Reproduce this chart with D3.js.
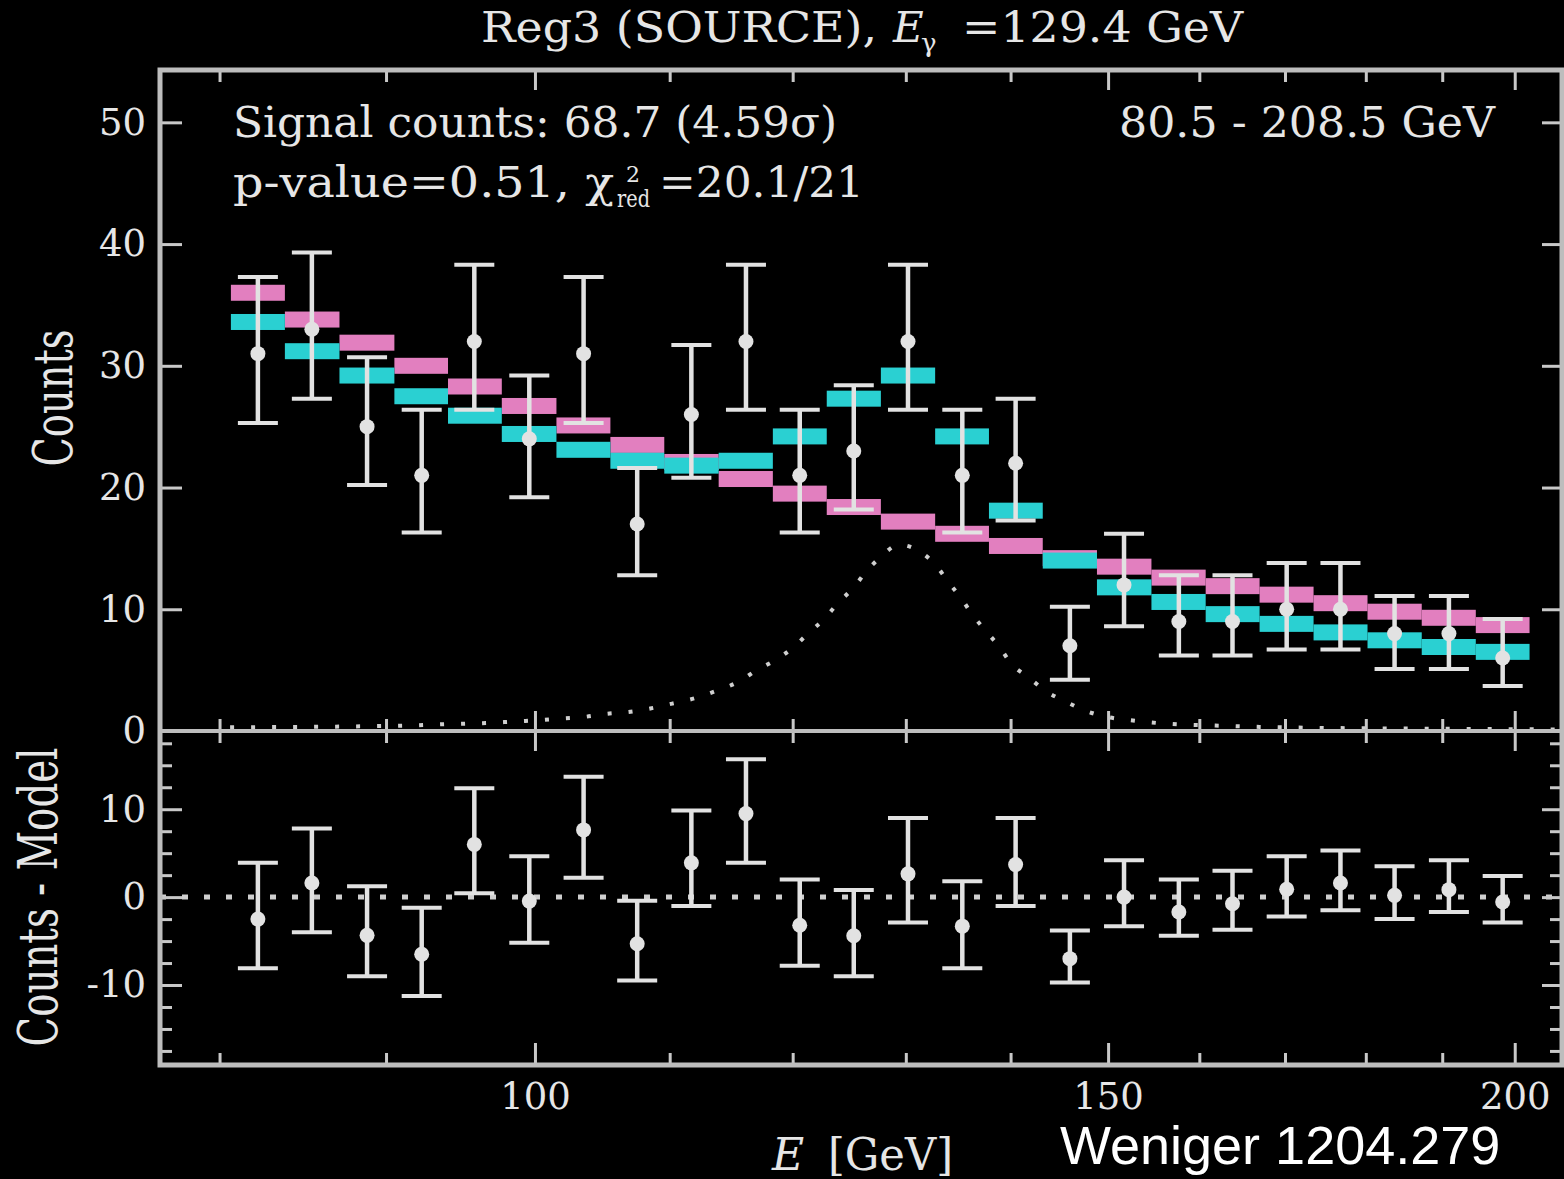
<!DOCTYPE html>
<html>
<head>
<meta charset="utf-8">
<script src="https://cdn.jsdelivr.net/npm/d3@7"></script>
<style>
  body { margin: 0; background: #000; }
  svg { display: block; }
</style>
</head>
<body>
<div id="chart"></div>
<script>
// bin centres in GeV (log spaced, 80.5 - 208.5 GeV)
const binCenters = [82.2, 85.4, 88.8, 92.3, 95.8, 99.6, 103.5, 107.5, 111.7, 116.1, 120.6, 125.3,
                    130.2, 135.3, 140.5, 146.0, 151.7, 157.7, 163.8, 170.2, 176.8, 183.7, 190.9, 198.3];

// observed counts with (asymmetric) error bars
const counts        = [31, 33, 25, 21, 32, 24, 31, 17, 26, 32, 21, 23, 32, 21, 22, 7, 12, 9, 9, 10, 10, 8, 8, 6];
const countsErrUp   = [6.3, 6.3, 5.7, 5.4, 6.3, 5.2, 6.3, 4.6, 5.7, 6.3, 5.4, 5.4, 6.3, 5.4, 5.3, 3.2, 4.2, 3.8, 3.8, 3.8, 3.8, 3.1, 3.1, 3.2];
const countsErrDown = [5.7, 5.7, 4.8, 4.7, 5.6, 4.8, 5.7, 4.2, 5.2, 5.6, 4.7, 4.8, 5.6, 4.7, 4.7, 2.8, 3.4, 2.8, 2.8, 3.3, 3.3, 2.9, 2.9, 2.3];

// background only fit (pink) and background + line fit (cyan)
const bkgModel   = [36.0, 33.8, 31.9, 30.0, 28.3, 26.7, 25.1, 23.5, 22.1, 20.7, 19.5, 18.4,
                    17.2, 16.2, 15.2, 14.2, 13.5, 12.6, 11.9, 11.2, 10.5, 9.8, 9.3, 8.7];
const totalModel = [33.6, 31.2, 29.2, 27.5, 25.9, 24.4, 23.1, 22.2, 21.8, 22.2, 24.2, 27.3,
                    29.2, 24.2, 18.1, 14.0, 11.8, 10.6, 9.6, 8.8, 8.1, 7.45, 6.9, 6.5];

// residuals: counts - model
const residuals     = [-2.5, 1.6, -4.35, -6.5, 6.0, -0.45, 7.65, -5.3, 3.9, 9.5, -3.2, -4.4,
                       2.65, -3.3, 3.7, -7.0, 0.0, -1.7, -0.75, 0.9, 1.6, 0.2, 0.85, -0.55];
const residErrUp    = [6.4, 6.2, 5.6, 5.3, 6.4, 5.1, 6.05, 4.9, 5.95, 6.2, 5.2, 5.2,
                       6.35, 5.1, 5.3, 3.2, 4.2, 3.7, 3.75, 3.75, 3.7, 3.3, 3.35, 2.95];
const residErrDown  = [5.6, 5.6, 4.65, 4.75, 5.55, 4.75, 5.45, 4.2, 4.9, 5.6, 4.6, 4.6,
                       5.55, 4.8, 4.7, 2.7, 3.3, 2.7, 2.95, 3.1, 3.1, 2.7, 2.55, 2.35];

// line component (dotted curve)
const lineE      = [80.6, 83.7, 86.4, 89.2, 92.1, 93.6, 95.3, 96.8, 98.5, 100.1, 101.6, 103.5, 105.1, 106.8,
                    108.5, 110.2, 112.0, 113.7, 115.4, 117.0, 118.5, 120.1, 121.3, 122.7, 123.9, 125.3, 126.4,
                    127.6, 129.4, 131.2, 132.9, 134.0, 135.2, 136.3, 137.5, 138.9, 140.1, 141.8, 143.5, 145.6,
                    147.5, 149.9, 152.2, 156.3, 161.8, 167.4, 175, 185, 195, 206];
const lineCounts = [0.3, 0.33, 0.35, 0.4, 0.47, 0.55, 0.6, 0.66, 0.78, 0.88, 1.0, 1.15, 1.4, 1.56,
                    1.85, 2.25, 2.7, 3.3, 4.0, 5.0, 5.8, 6.9, 8.0, 9.2, 10.5, 11.8, 13.1,
                    14.2, 15.3, 14.8, 13.5, 12.2, 10.9, 9.5, 8.3, 6.9, 5.5, 4.4, 3.3, 2.4,
                    1.7, 1.15, 0.9, 0.6, 0.45, 0.33, 0.25, 0.2, 0.16, 0.13];

// ticks
const xMajorTicks = [100, 150, 200];
const xMinorTicks = [80, 90, 110, 120, 130, 140, 160, 170, 180, 190];
const countTicks  = [0, 10, 20, 30, 40, 50];
const residTicks  = [-10, 0, 10];
const residMinor  = [-17.5, -15, -12.5, -7.5, -5, -2.5, 2.5, 5, 7.5, 12.5, 15, 17.5];

const width = 1564, height = 1179;
const plotLeft = 160, plotRight = 1562, plotTop = 70, panelSplit = 731, plotBottom = 1065;

const serif = "'DejaVu Serif', serif";
const textColor = "#e6e6e6";
const frameColor = "#bdbdbd";
const tickColor = "#c8c8c8";
const pink = "#e27fbf";
const cyan = "#2ad0d2";
const pointColor = "#e2e2e2";

const svg = d3.select("#chart")
  .append("svg")
    .attr("width", width)
    .attr("height", height)
    .style("background", "#000");

const x = d3.scaleLog().domain([76.7, 206.8]).range([plotLeft, plotRight]);
const yTop = d3.scaleLinear().domain([0, 54.3]).range([panelSplit, plotTop]);
const yRes = d3.scaleLinear().domain([-19.1, 18.9]).range([plotBottom, panelSplit]);

// bin edges: geometric midpoints between neighbouring centres
function binLo(i) {
  const prev = i > 0 ? binCenters[i - 1] : binCenters[0] * binCenters[0] / binCenters[1];
  return Math.sqrt(prev * binCenters[i]);
}
function binHi(i) {
  const n = binCenters.length;
  const next = i < n - 1 ? binCenters[i + 1] : binCenters[n - 1] * binCenters[n - 1] / binCenters[n - 2];
  return Math.sqrt(next * binCenters[i]);
}

const barH = 16;

// model bars, pink below cyan
function drawModel(values, color) {
  svg.append("g")
    .selectAll("rect")
    .data(values)
    .join("rect")
      .attr("x", (d, i) => x(binLo(i)))
      .attr("width", (d, i) => x(binHi(i)) - x(binLo(i)))
      .attr("y", d => yTop(d) - barH / 2)
      .attr("height", barH)
      .attr("fill", color);
}
drawModel(bkgModel, pink);
drawModel(totalModel, cyan);

// dotted line component
const lineData = lineE.map((e, i) => ({e: e, c: lineCounts[i]}));
svg.append("path")
  .datum(lineData)
  .attr("fill", "none")
  .attr("stroke", "#cfcfcf")
  .attr("stroke-width", 4)
  .attr("stroke-dasharray", "4,17")
  .attr("d", d3.line()
    .x(d => x(d.e))
    .y(d => yTop(d.c))
    .curve(d3.curveMonotoneX));

// residual zero line
svg.append("line")
  .attr("x1", plotLeft).attr("x2", plotRight)
  .attr("y1", yRes(0)).attr("y2", yRes(0))
  .attr("stroke", "#cfcfcf")
  .attr("stroke-width", 5)
  .attr("stroke-dasharray", "6,16");

// error bars + points
function drawPoints(vals, up, down, y) {
  const g = svg.append("g");
  const pts = vals.map((v, i) => ({e: binCenters[i], v: v, hi: v + up[i], lo: v - down[i]}));
  const cap = 20;

  g.selectAll("line.bar")
    .data(pts)
    .join("line")
      .attr("class", "bar")
      .attr("x1", d => x(d.e)).attr("x2", d => x(d.e))
      .attr("y1", d => y(d.hi)).attr("y2", d => y(d.lo))
      .attr("stroke", pointColor).attr("stroke-width", 4.5);

  g.selectAll("line.capHi")
    .data(pts)
    .join("line")
      .attr("class", "capHi")
      .attr("x1", d => x(d.e) - cap).attr("x2", d => x(d.e) + cap)
      .attr("y1", d => y(d.hi)).attr("y2", d => y(d.hi))
      .attr("stroke", pointColor).attr("stroke-width", 4);

  g.selectAll("line.capLo")
    .data(pts)
    .join("line")
      .attr("class", "capLo")
      .attr("x1", d => x(d.e) - cap).attr("x2", d => x(d.e) + cap)
      .attr("y1", d => y(d.lo)).attr("y2", d => y(d.lo))
      .attr("stroke", pointColor).attr("stroke-width", 4);

  g.selectAll("circle")
    .data(pts)
    .join("circle")
      .attr("cx", d => x(d.e))
      .attr("cy", d => y(d.v))
      .attr("r", 7.5)
      .attr("fill", pointColor);
}
drawPoints(counts, countsErrUp, countsErrDown, yTop);
drawPoints(residuals, residErrUp, residErrDown, yRes);

// axes (ticks pointing inwards)
function styleAxis(g) {
  g.select(".domain").remove();
  g.selectAll(".tick line").attr("stroke", tickColor).attr("stroke-width", 3);
  g.selectAll(".tick text")
    .attr("fill", textColor)
    .attr("font-family", serif)
    .attr("font-size", 37);
}
function addAxis(axis, tx, ty) {
  svg.append("g")
    .attr("transform", `translate(${tx},${ty})`)
    .call(axis)
    .call(styleAxis);
}
const noLabel = () => "";
const plain = d => String(d);   // keep an ascii hyphen for negatives

// x ticks: top frame, panel split (both sides), bottom frame
addAxis(d3.axisTop(x).tickValues(xMajorTicks).tickSize(-20).tickSizeOuter(0).tickFormat(noLabel), 0, plotTop);
addAxis(d3.axisTop(x).tickValues(xMinorTicks).tickSize(-12).tickSizeOuter(0).tickFormat(noLabel), 0, plotTop);
addAxis(d3.axisBottom(x).tickValues(xMajorTicks).tickSize(-20).tickSizeOuter(0).tickFormat(noLabel), 0, panelSplit);
addAxis(d3.axisBottom(x).tickValues(xMinorTicks).tickSize(-12).tickSizeOuter(0).tickFormat(noLabel), 0, panelSplit);
addAxis(d3.axisTop(x).tickValues(xMajorTicks).tickSize(-20).tickSizeOuter(0).tickFormat(noLabel), 0, panelSplit);
addAxis(d3.axisTop(x).tickValues(xMinorTicks).tickSize(-12).tickSizeOuter(0).tickFormat(noLabel), 0, panelSplit);
addAxis(d3.axisBottom(x).tickValues(xMajorTicks).tickSize(-22).tickSizeOuter(0).tickPadding(18).tickFormat(plain), 0, plotBottom);
addAxis(d3.axisBottom(x).tickValues(xMinorTicks).tickSize(-12).tickSizeOuter(0).tickFormat(noLabel), 0, plotBottom);

// y ticks, top panel
addAxis(d3.axisLeft(yTop).tickValues(countTicks).tickSize(-22).tickSizeOuter(0).tickPadding(14).tickFormat(plain), plotLeft, 0);
addAxis(d3.axisRight(yTop).tickValues(countTicks.slice(1)).tickSize(-20).tickSizeOuter(0).tickFormat(noLabel), plotRight, 0);

// y ticks, residual panel
addAxis(d3.axisLeft(yRes).tickValues(residTicks).tickSize(-22).tickSizeOuter(0).tickPadding(14).tickFormat(plain), plotLeft, 0);
addAxis(d3.axisLeft(yRes).tickValues(residMinor).tickSize(-12).tickSizeOuter(0).tickFormat(noLabel), plotLeft, 0);
addAxis(d3.axisRight(yRes).tickValues(residTicks).tickSize(-20).tickSizeOuter(0).tickFormat(noLabel), plotRight, 0);
addAxis(d3.axisRight(yRes).tickValues(residMinor).tickSize(-12).tickSizeOuter(0).tickFormat(noLabel), plotRight, 0);

// frame + panel separator
svg.append("rect")
  .attr("x", plotLeft).attr("y", plotTop)
  .attr("width", plotRight - plotLeft).attr("height", plotBottom - plotTop)
  .attr("fill", "none")
  .attr("stroke", frameColor)
  .attr("stroke-width", 5);
svg.append("line")
  .attr("x1", plotLeft).attr("x2", plotRight)
  .attr("y1", panelSplit).attr("y2", panelSplit)
  .attr("stroke", frameColor)
  .attr("stroke-width", 4);

// texts
function label(str, px, py, size, len) {
  const t = svg.append("text")
    .attr("x", px).attr("y", py)
    .attr("fill", textColor)
    .attr("font-family", serif)
    .attr("font-size", size)
    .text(str);
  if (len) t.attr("textLength", len).attr("lengthAdjust", "spacingAndGlyphs");
  return t;
}

// title
label("Reg3 (SOURCE),", 481, 42, 42, 396);
label("E", 893, 42, 42).attr("font-style", "italic");
label("γ", 921, 52, 26);
label("=129.4 GeV", 962, 42, 42, 281);

// fit info
label("Signal counts: 68.7 (4.59σ)", 233, 137, 42, 604);
label("80.5 - 208.5 GeV", 1119, 137, 42, 376);
label("p-value=0.51, χ", 233, 197, 42, 381);
label("2", 626, 182, 22);
label("red", 617, 207, 24, 33);
label("=20.1/21", 659, 197, 42, 205);

// axis titles
label("E", 772, 1170, 44).attr("font-style", "italic");
label("[GeV]", 828, 1170, 44, 125);

svg.append("text")
  .attr("transform", "translate(72,398) rotate(-90)")
  .attr("text-anchor", "middle")
  .attr("fill", textColor)
  .attr("font-family", serif)
  .attr("font-size", 55)
  .attr("textLength", 137)
  .attr("lengthAdjust", "spacingAndGlyphs")
  .text("Counts");

svg.append("text")
  .attr("transform", "translate(57,897) rotate(-90)")
  .attr("text-anchor", "middle")
  .attr("fill", textColor)
  .attr("font-family", serif)
  .attr("font-size", 55)
  .attr("textLength", 299)
  .attr("lengthAdjust", "spacingAndGlyphs")
  .text("Counts - Model");

// reference overlay (kept inside the picture)
svg.append("text")
  .attr("x", 1060).attr("y", 1164)
  .attr("fill", "#ffffff")
  .attr("font-family", "'Liberation Sans', Arial, sans-serif")
  .attr("font-size", 54)
  .text("Weniger 1204.279");
</script>
</body>
</html>
